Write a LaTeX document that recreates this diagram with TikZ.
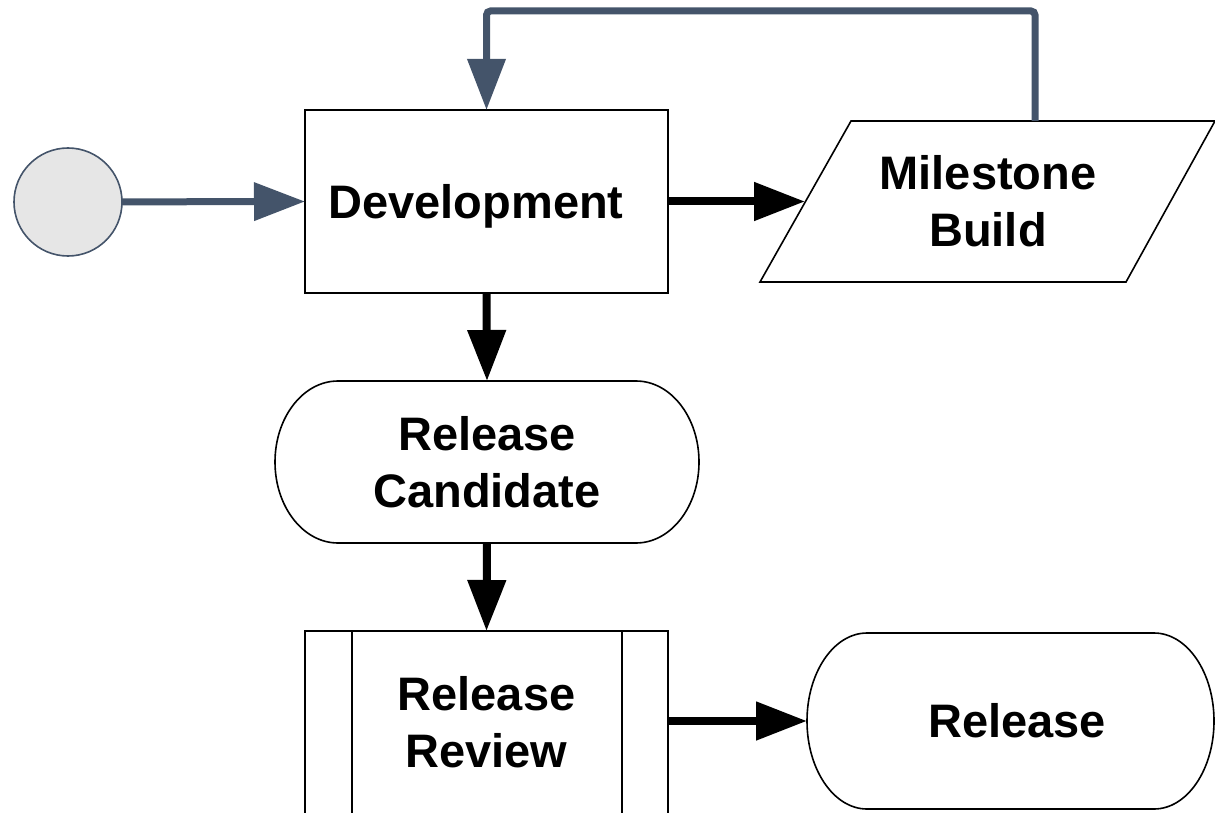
\documentclass[tikz,border=0pt]{standalone}
\usepackage{fontspec}
\setmainfont{Liberation Sans}
\usetikzlibrary{arrows.meta,calc}
\definecolor{slate}{HTML}{44546A}
\definecolor{startfill}{HTML}{E6E6E6}
\begin{document}
\begin{tikzpicture}[x=1pt,y=-1pt,
  lbl/.style={font=\fontsize{47}{57}\selectfont\bfseries, align=center, inner sep=0pt, outer sep=0pt},
  boxline/.style={draw=black, line width=1.6pt},
  procbox/.style={lbl, boxline, rectangle},
  startnode/.style={circle, draw=slate, line width=1.6pt, fill=startfill, minimum size=108pt, inner sep=0pt, outer sep=0pt},
  blackarrow/.style={draw=black, line width=8pt, -{Triangle[length=51pt,width=37pt]}},
  slatearrow/.style={draw=slate, line width=7pt, -{Triangle[length=51pt,width=37pt]}},
]
\useasboundingbox (0,0) rectangle (1215,813);
\clip (0,0) rectangle (1215,812.5);

% nodes
\node[startnode] (start) at (68,202) {};
\node[procbox, minimum width=363pt, minimum height=183pt, text depth=0pt] (dev) at (486.5,201.5) {Development\hspace*{21pt}};
\node[lbl, minimum width=366pt, minimum height=161pt] (ms) at (988,201.5) {Milestone\\Build};
\node[lbl, minimum width=424pt, minimum height=162pt] (rc) at (487,462) {Release\\Candidate};
\node[procbox, minimum width=363pt, minimum height=190pt] (rr) at (486.5,726) {};
\node[lbl] (rrt) at (486.5,722) {Release\\Review};
\node[lbl, minimum width=407pt, minimum height=176pt] (rel) at (1010.5,721) {\hspace*{13pt}Release};

% milestone parallelogram
\draw[boxline] ($(ms.north west)+(46,0)$) -- ($(ms.north east)+(44,0)$)
  -- ($(ms.south east)+(-45,0)$) -- ($(ms.south west)+(-45,0)$) -- cycle;

% release candidate terminator
\draw[boxline] ($(rc.north west)+(63,0)$) -- ($(rc.north east)+(-63,0)$)
  arc[start angle=-90, end angle=90, x radius=63, y radius=81]
  -- ($(rc.south west)+(63,0)$)
  arc[start angle=90, end angle=270, x radius=63, y radius=81] -- cycle;

% release terminator
\draw[boxline] ($(rel.north west)+(60,0)$) -- ($(rel.north east)+(-60,0)$)
  arc[start angle=-90, end angle=90, x radius=60, y radius=88]
  -- ($(rel.south west)+(60,0)$)
  arc[start angle=90, end angle=270, x radius=60, y radius=88] -- cycle;

% predefined process inner lines
\draw[boxline] ($(rr.north west)+(47,0)$) -- ($(rr.south west)+(47,0)$);
\draw[boxline] ($(rr.north east)+(-46,0)$) -- ($(rr.south east)+(-46,0)$);

% connectors
\draw[slatearrow] (start) -- (dev.west);
\draw[blackarrow] (dev.east) -- (ms.west);
\draw[blackarrow] (dev.south) -- (rc.north);
\draw[blackarrow] (rc.south) -- (rr.north);
\draw[blackarrow] (rr.east |- rel.west) -- (rel.west);
\draw[slatearrow, rounded corners=4pt] ($(ms.north)+(47,0)$) |- ($(dev.north)+(0,-99)$) -- (dev.north);
\end{tikzpicture}
\end{document}
